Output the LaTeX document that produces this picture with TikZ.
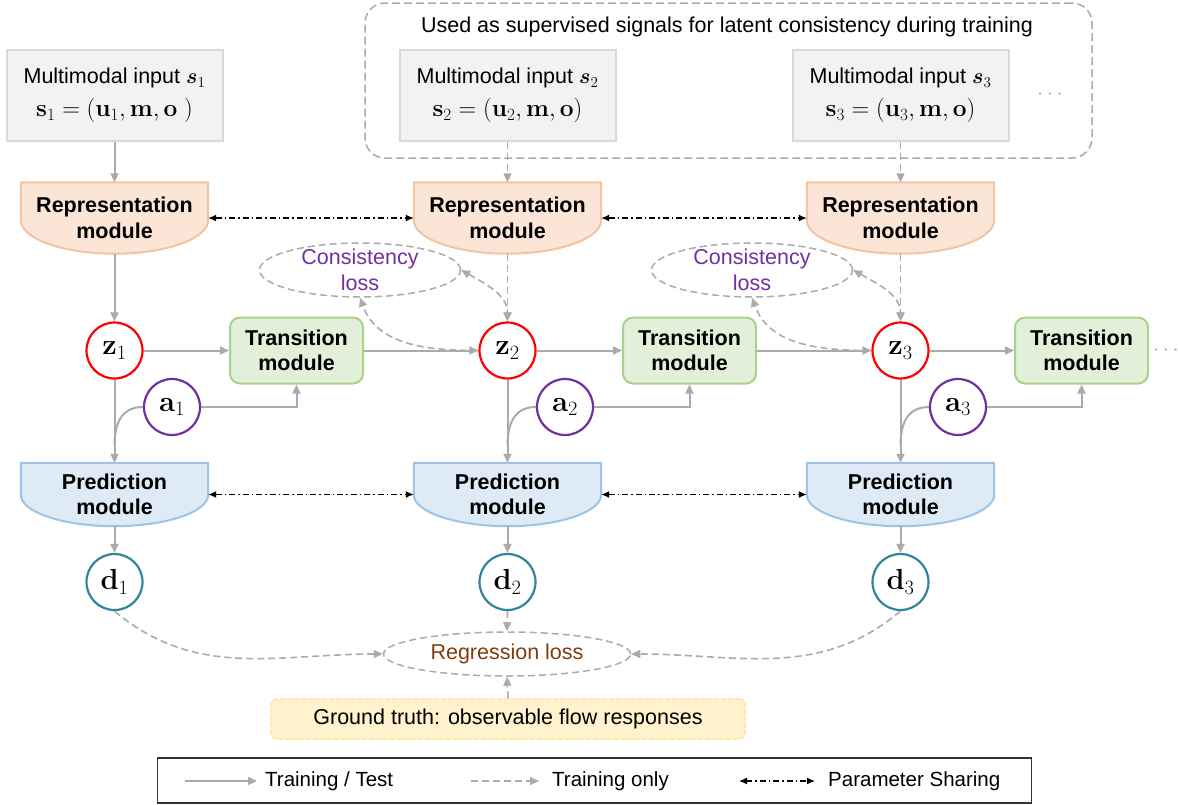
\RequirePackage{fix-cm}
\documentclass[tikz,border=0pt]{standalone}
\usepackage[no-math]{fontspec}
\setmainfont{Liberation Sans}
\usepackage{bm}
\usetikzlibrary{arrows.meta,calc,shapes.geometric}

\definecolor{lgray}{HTML}{ABABAB}
\definecolor{infill}{HTML}{F2F2F2}
\definecolor{inborder}{HTML}{D9D9D9}
\definecolor{repfill}{HTML}{FBE5D6}
\definecolor{repborder}{HTML}{F4C3A0}
\definecolor{predfill}{HTML}{DEEBF7}
\definecolor{predborder}{HTML}{9DC3E6}
\definecolor{trfill}{HTML}{E2F0D9}
\definecolor{trborder}{HTML}{A9D18E}
\definecolor{zred}{HTML}{FF0000}
\definecolor{apurple}{HTML}{7030A0}
\definecolor{dteal}{HTML}{31849B}
\definecolor{regbrown}{HTML}{843C0C}
\definecolor{gtfill}{HTML}{FFF2CC}
\definecolor{gtborder}{HTML}{FFE699}

\pgfdeclarelayer{background}
\pgfsetlayers{background,main}

% module body: flat top, straight sides, elliptic bottom
% #1 node, #2 side height, #3 control offset, #4 fill, #5 border
\newcommand{\modshape}[5]{%
  \filldraw[fill=#4, draw=#5, line width=2pt, line join=round]
    (#1.north west) -- (#1.north east) -- ($(#1.north east)+(0,-#2)$)
    .. controls ($(#1.north east)+(0,-#2-#3)$) and ($(#1.south)+(51.6,0)$) .. (#1.south)
    .. controls ($(#1.south)+(-51.6,0)$) and ($(#1.north west)+(0,-#2-#3)$) .. ($(#1.north west)+(0,-#2)$)
    -- cycle;}

\tikzset{
  txt/.style={font=\fontsize{21.5}{25.5}\selectfont, align=center, inner sep=0pt},
  inbox/.style={txt, draw=inborder, fill=infill, line width=2pt,
    minimum width=216pt, minimum height=91pt},
  modbox/.style={txt, font=\fontsize{21.5}{25.5}\selectfont\bfseries, minimum width=187pt},
  transbox/.style={txt, font=\fontsize{21.5}{25.5}\selectfont\bfseries,
    draw=trborder, fill=trfill, line width=2pt, rounded corners=10pt,
    minimum width=133pt, minimum height=66pt},
  var/.style={circle, line width=2.2pt, minimum size=56pt, inner sep=0pt,
    fill=white, font=\fontsize{29}{30}\selectfont},
  gtip/.tip={Triangle[length=9pt,width=8pt]},
  btip/.tip={Latex[length=8pt,width=7pt]},
  gline/.style={draw=lgray, line width=2pt, -gtip},
  gplain/.style={draw=lgray, line width=2pt},
  dline/.style={draw=lgray, line width=1.6pt, dash pattern=on 7pt off 4pt, -gtip},
  share/.style={draw=black, line width=1.3pt,
    dash pattern=on 6pt off 3pt on 1.5pt off 3pt, btip-btip},
  lossell/.style={ellipse, draw=lgray, line width=1.5pt, dash pattern=on 7pt off 4pt, inner sep=0pt},
}

\begin{document}
\begin{tikzpicture}[x=1pt,y=1pt]
\useasboundingbox (0,0) rectangle (1178,-804);

% training-only supervision group
\node[draw=lgray, line width=1.5pt, dash pattern=on 8pt off 4pt, rounded corners=20pt,
      minimum width=727pt, minimum height=155pt, inner sep=0pt] (grp) at (728.5,-80.5) {};
\node[txt] (grpt) at (727,-27) {Used as supervised signals for latent consistency during training};

% multimodal inputs
\node[inbox] (in1) at (114.5,-95.5) {Multimodal input $\bm{s}_1$\\[7pt]
  \fontsize{24.5}{26}\selectfont$\mathbf{s}_1=(\mathbf{u}_1,\mathbf{m},\mathbf{o}\;)$};
\node[inbox] (in2) at (507.5,-95.5) {Multimodal input $\bm{s}_2$\\[7pt]
  \fontsize{24.5}{26}\selectfont$\mathbf{s}_2=(\mathbf{u}_2,\mathbf{m},\mathbf{o})$};
\node[inbox] (in3) at (900.5,-95.5) {Multimodal input $\bm{s}_3$\\[7pt]
  \fontsize{24.5}{26}\selectfont$\mathbf{s}_3=(\mathbf{u}_3,\mathbf{m},\mathbf{o})$};
\node[txt, text=lgray] (dotsA) at (1050,-95) {\fontsize{22}{22}\selectfont$\cdots$};

% representation modules
\node[modbox, minimum height=71pt] (r1) at (114.5,-218) {Representation\\module};
\node[modbox, minimum height=71pt] (r2) at (507.5,-218) {Representation\\module};
\node[modbox, minimum height=71pt] (r3) at (900.5,-218) {Representation\\module};

% prediction modules
\node[modbox, minimum height=63pt] (p1) at (114.5,-494.5) {Prediction\\module};
\node[modbox, minimum height=63pt] (p2) at (507.5,-494.5) {Prediction\\module};
\node[modbox, minimum height=63pt] (p3) at (900.5,-494.5) {Prediction\\module};

\begin{pgfonlayer}{background}
  \modshape{r1}{38}{18.2}{repfill}{repborder}
  \modshape{r2}{38}{18.2}{repfill}{repborder}
  \modshape{r3}{38}{18.2}{repfill}{repborder}
  \modshape{p1}{32}{17.1}{predfill}{predborder}
  \modshape{p2}{32}{17.1}{predfill}{predborder}
  \modshape{p3}{32}{17.1}{predfill}{predborder}
\end{pgfonlayer}

% latent states
\node[var, draw=zred] (z1) at (114.5,-350.5) {$\mathbf{z}_1$};
\node[var, draw=zred] (z2) at (507.5,-350.5) {$\mathbf{z}_2$};
\node[var, draw=zred] (z3) at (900.5,-350.5) {$\mathbf{z}_3$};

% transition modules
\node[transbox] (t1) at (296.5,-350.5) {Transition\\module};
\node[transbox] (t2) at (689.5,-350.5) {Transition\\module};
\node[transbox] (t3) at (1081.5,-350.5) {Transition\\module};
\node[txt, text=lgray] (dotsB) at (1166,-350.5) {\fontsize{22}{22}\selectfont$\cdots$};

% actions
\node[var, draw=apurple] (a1) at (172,-407) {$\mathbf{a}_1$};
\node[var, draw=apurple] (a2) at (565,-407) {$\mathbf{a}_2$};
\node[var, draw=apurple] (a3) at (958,-407) {$\mathbf{a}_3$};

% outputs
\node[var, draw=dteal] (d1) at (114.5,-582) {$\mathbf{d}_1$};
\node[var, draw=dteal] (d2) at (507.5,-582) {$\mathbf{d}_2$};
\node[var, draw=dteal] (d3) at (900.5,-582) {$\mathbf{d}_3$};

% consistency losses
\node[lossell, minimum width=201pt, minimum height=54pt] (cl1) at (360,-270) {};
\node[txt, text=apurple] (cl1t) at (360,-270) {Consistency\\loss};
\node[lossell, minimum width=201pt, minimum height=54pt] (cl2) at (752,-270) {};
\node[txt, text=apurple] (cl2t) at (752,-270) {Consistency\\loss};

% regression loss and ground truth
\node[lossell, txt, text=regbrown, minimum width=247pt, minimum height=44pt] (rl) at (507,-654) {Regression loss};
\node[txt, draw=gtborder, fill=gtfill, line width=1.5pt, dash pattern=on 5pt off 2pt,
      rounded corners=5pt, minimum width=474pt, minimum height=40pt] (gt) at (508,-719)
      {Ground truth: observable flow responses};

% inputs to representation modules
\draw[gline] (in1.south) -- (r1.north);
\draw[dline] (in2.south) -- (r2.north);
\draw[dline] (in3.south) -- (r3.north);

% representation modules to latent states
\draw[gline] (r1.south) -- (z1.north);
\draw[dline] (r2.south) -- (z2.north);
\draw[dline] (r3.south) -- (z3.north);

% parameter sharing
\draw[share] (r1.east) -- (r2.west);
\draw[share] (r2.east) -- (r3.west);
\draw[share] (p1.east) -- (p2.west);
\draw[share] (p2.east) -- (p3.west);

% latent rollout
\draw[gline] (z1.east) -- (t1.west);
\draw[gline] (t1.east) -- (z2.west);
\draw[gline] (z2.east) -- (t2.west);
\draw[gline] (t2.east) -- (z3.west);
\draw[gline] (z3.east) -- (t3.west);

% actions into transitions
\draw[gline] (a1.east) -| (t1.south);
\draw[gline] (a2.east) -| (t2.south);
\draw[gline] (a3.east) -| (t3.south);

% latent states and actions into prediction modules
\coordinate (j1) at (114.5,-446);
\coordinate (j2) at (507.5,-446);
\coordinate (j3) at (900.5,-446);
\draw[gline] (z1.south) -- (p1.north);
\draw[gline] (z2.south) -- (p2.north);
\draw[gline] (z3.south) -- (p3.north);
\draw[gplain] (a1.west) .. controls +(-22,0) and +(0,22) .. (j1);
\draw[gplain] (a2.west) .. controls +(-22,0) and +(0,22) .. (j2);
\draw[gplain] (a3.west) .. controls +(-22,0) and +(0,22) .. (j3);

% prediction modules to outputs
\draw[gline] (p1.south) -- (d1.north);
\draw[gline] (p2.south) -- (d2.north);
\draw[gline] (p3.south) -- (d3.north);

% consistency loss links
\draw[dline] (z2.west) to[out=180,in=-70] (cl1.south);
\draw[dline, gtip-gtip] (cl1.east) to[out=-30,in=90] (z2.north);
\draw[dline] (z3.west) to[out=180,in=-70] (cl2.south);
\draw[dline, gtip-gtip] (cl2.east) to[out=-30,in=90] (z3.north);

% regression loss links
\draw[dline] (d2.south) -- (rl.north);
\draw[dline] (d1.south) to[out=-40,in=180] (rl.west);
\draw[dline] (d3.south) to[out=-140,in=0] (rl.east);
\draw[dline] (gt.north) -- (rl.south);

% legend
\node[draw=black!80, line width=1.2pt, minimum width=874pt, minimum height=45pt, inner sep=0pt] (leg) at (594.5,-780.5) {};
\coordinate (l1a) at (185,-781); \coordinate (l1b) at (257,-781);
\coordinate (l2a) at (471,-781); \coordinate (l2b) at (539,-781);
\coordinate (l3a) at (739,-781); \coordinate (l3b) at (815,-781);
\draw[gline] (l1a) -- (l1b);
\draw[dline] (l2a) -- (l2b);
\draw[share] (l3a) -- (l3b);
\node[txt, anchor=west, font=\fontsize{20.5}{24}\selectfont] (lt1) at (265,-781) {Training / Test};
\node[txt, anchor=west, font=\fontsize{20.5}{24}\selectfont] (lt2) at (552,-781) {Training only};
\node[txt, anchor=west, font=\fontsize{20.5}{24}\selectfont] (lt3) at (828,-781) {Parameter Sharing};
\end{tikzpicture}
\end{document}
